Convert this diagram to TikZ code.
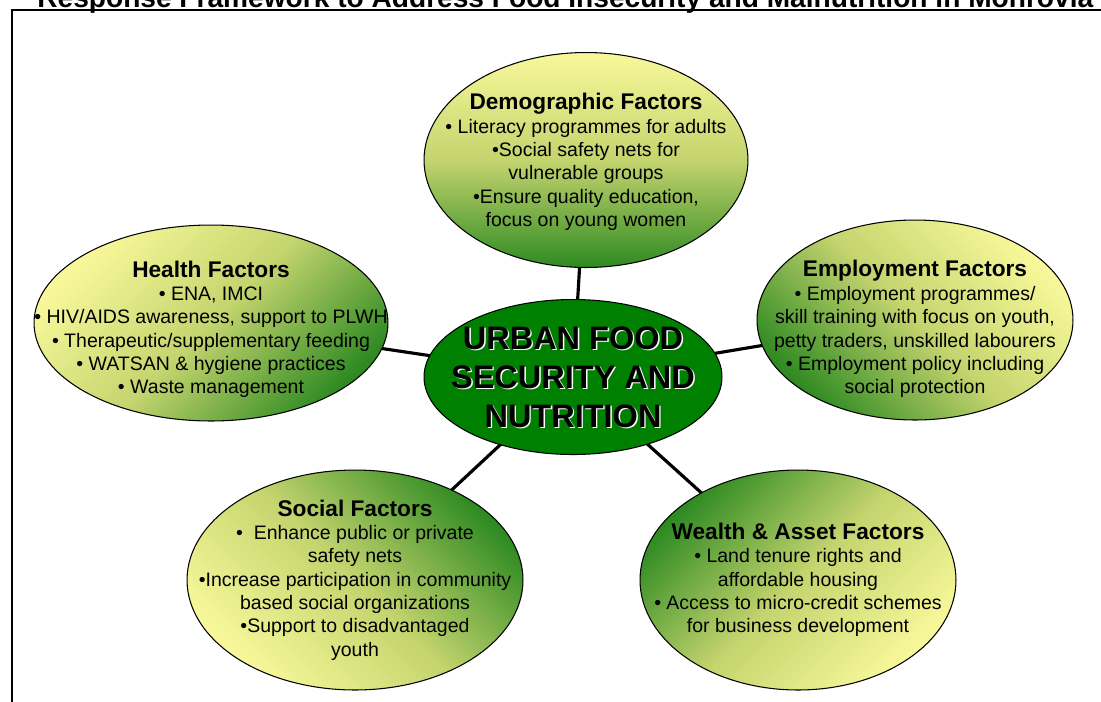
\documentclass[tikz,border=0pt]{standalone}
\usepackage{fontspec}
\setmainfont{Liberation Sans}
\usetikzlibrary{shapes.geometric,backgrounds}
\definecolor{ink}{HTML}{000000}
\definecolor{leafyellow}{HTML}{F8F89A}
\definecolor{leafmid}{HTML}{C4D46E}
\definecolor{leafgreen}{HTML}{2F8A22}
\definecolor{hubgreen}{HTML}{008000}
\newcommand{\fhead}[1]{{\fontsize{12.9}{14.7}\selectfont\bfseries #1}}

\begin{document}
\begin{tikzpicture}[x=0.02cm,y=-0.02cm,
   factor/.style={ellipse,draw=ink,line width=0.6pt,inner sep=0pt,
                  top color=leafyellow,bottom color=leafgreen,middle color=leafmid},
   flipped/.style={top color=leafgreen,bottom color=leafyellow,middle color=leafmid},
   factortext/.style={align=center,inner sep=0pt,font=\fontsize{11.1}{13.3}\selectfont},
   hubtext/.style={align=center,inner sep=0pt,font=\fontsize{18.5}{22.2}\selectfont\bfseries},
   link/.style={draw=ink,line width=1.8pt}]
  \useasboundingbox (0,0) rectangle (1101,701);
  \clip (0,0) rectangle (1101,701);

  % page frame and heading
  \draw[ink,line width=0.85pt] (12,10) rectangle (1200,800);
  \node[anchor=base west,inner sep=0pt,font=\fontsize{16}{19}\selectfont\bfseries] (title) at (37,7)
    {Response Framework to Address Food Insecurity and Malnutrition in Monrovia};

  \node[ellipse,draw=ink,line width=0.6pt,fill=hubgreen,
        minimum width=5.96cm,minimum height=3.10cm] (hub) at (573,377) {};
  \node[hubtext,text=white,xshift=0.8pt,yshift=-0.8pt] at (hub) {URBAN FOOD\\SECURITY AND\\NUTRITION};
  \node[hubtext] (hubtext) at (hub) {URBAN FOOD\\SECURITY AND\\NUTRITION};

  \node[factor,minimum width=6.48cm,minimum height=4.30cm] (demo) at (586,160) {};
  \node[factortext,yshift=-1.2pt] (demotext) at (demo) {\fhead{Demographic Factors}\\
    • Literacy programmes for adults\\ •Social safety nets for\\ vulnerable groups\\
    •Ensure quality education,\\ focus on young women};

  \node[factor,minimum width=7.08cm,minimum height=3.92cm,shading angle=45] (health) at (211,323) {};
  \node[factortext,yshift=-3.6pt] (healthtext) at (health) {\fhead{Health Factors}\\
    • ENA, IMCI\\ • HIV/AIDS awareness, support to PLWH\\ • Therapeutic/supplementary feeding\\
    • WATSAN \& hygiene practices\\ • Waste management};

  \node[factor,minimum width=6.32cm,minimum height=4.00cm,shading angle=-45] (employ) at (915,320) {};
  \node[factortext,yshift=-5.2pt] (employtext) at (employ) {\fhead{Employment Factors}\\
    • Employment programmes/\\ skill training with focus on youth,\\ petty traders, unskilled labourers\\
    • Employment policy including\\ social protection};

  \node[factor,flipped,minimum width=6.72cm,minimum height=4.40cm,shading angle=-45] (social) at (355,580) {};
  \node[factortext] (socialtext) at (social) {\fhead{Social Factors}\\
    •~~Enhance public or private\\ safety nets\\ •Increase participation in community\\
    based social organizations\\ •Support to disadvantaged\\ youth};

  \node[factor,flipped,minimum width=6.32cm,minimum height=4.40cm,shading angle=45] (wealth) at (798,580) {};
  \node[factortext] (wealthtext) at (wealth) {\fhead{Wealth \& Asset Factors}\\
    • Land tenure rights and\\ affordable housing\\ • Access to micro-credit schemes\\
    for business development};

  \begin{scope}[on background layer]
    \foreach \f in {demo,health,employ,social,wealth}
      \draw[link] (hub.center) -- (\f.center);
  \end{scope}
\end{tikzpicture}
\end{document}
